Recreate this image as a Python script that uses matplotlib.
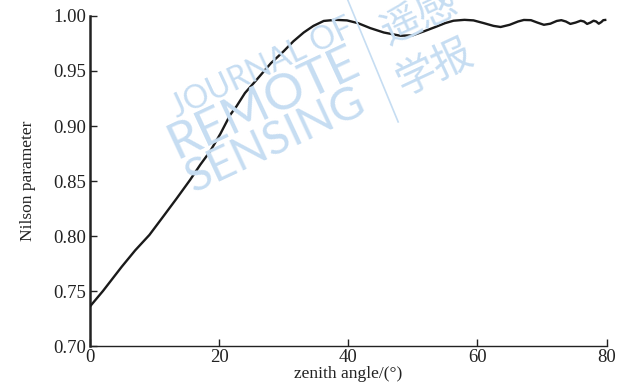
import numpy as np
import matplotlib.pyplot as plt

# Nilson parameter vs view zenith angle
zenith = [0.0, 2.0, 4.9, 7.0, 9.2, 11.5, 13.4, 15.5, 17.1, 18.6, 20.2, 21.7, 22.7,
          24.0, 25.8, 28.0, 30.0, 31.5, 33.1, 34.6, 36.2, 38.0, 39.8, 41.5, 43.4,
          45.5, 48.1, 50.0, 51.7, 53.5, 55.0, 56.3, 58.0, 59.4, 61.0, 62.5, 63.6,
          65.0, 66.3, 67.2, 68.3, 69.3, 70.3, 71.3, 72.3, 73.0, 73.7, 74.4, 75.2,
          76.0, 76.5, 77.0, 77.5, 78.0, 78.4, 78.8, 79.2, 79.5, 79.8]
nilson = [0.7360, 0.7500, 0.7720, 0.7870, 0.8010, 0.8190, 0.8340, 0.8510, 0.8650,
          0.8770, 0.8930, 0.9100, 0.9180, 0.9300, 0.9420, 0.9570, 0.9680, 0.9770,
          0.9850, 0.9910, 0.9955, 0.9965, 0.9960, 0.9935, 0.9890, 0.9850, 0.9820,
          0.9825, 0.9860, 0.9900, 0.9935, 0.9957, 0.9965, 0.9960, 0.9935, 0.9910,
          0.9900, 0.9920, 0.9950, 0.9964, 0.9962, 0.9940, 0.9920, 0.9930, 0.9955,
          0.9962, 0.9950, 0.9928, 0.9940, 0.9957, 0.9950, 0.9928, 0.9940, 0.9957,
          0.9950, 0.9930, 0.9945, 0.9962, 0.9964]

xticks = [0, 20, 40, 60, 80]
yticks = [0.70, 0.75, 0.80, 0.85, 0.90, 0.95, 1.00]

plt.rcParams['font.family'] = ['Liberation Serif', 'DejaVu Serif']

fig = plt.figure(figsize=(6.3, 3.92), dpi=100)
ax = fig.add_axes([0.1429, 0.1173, 0.8198, 0.8419])

# faint journal mark behind the curve
wm = '#c6ddf2'
rot = 25
fig.text(0.416, 0.827, 'JOURNAL OF', color=wm, fontsize=23, rotation=rot,
         ha='center', va='center', family='Lato', zorder=0)
fig.text(0.418, 0.737, 'REMOTE', color=wm, fontsize=36, rotation=rot,
         ha='center', va='center', family='Lato', zorder=0)
fig.text(0.437, 0.643, 'SENSING', color=wm, fontsize=33, rotation=rot,
         ha='center', va='center', family='Lato', zorder=0)
fig.lines.append(plt.Line2D([0.552, 0.632], [1.0, 0.689], transform=fig.transFigure,
                            color=wm, lw=1.2, zorder=0))
fig.text(0.666, 0.955, '遥感', color=wm, fontsize=29, rotation=rot,
         ha='center', va='center', family='Noto Sans CJK SC', zorder=0)
fig.text(0.690, 0.828, '学报', color=wm, fontsize=29, rotation=rot,
         ha='center', va='center', family='Noto Sans CJK SC', zorder=0)
ax.patch.set_alpha(0)

ax.plot(zenith, nilson, color='#1a1a1a', lw=1.7, zorder=3)

ax.set_xlim(0, 80)
ax.set_ylim(0.70, 1.00)
ax.set_xticks(xticks)
ax.set_yticks(yticks)
ax.set_xticklabels([str(t) for t in xticks])
ax.set_yticklabels(['%.2f' % t for t in yticks])
ax.tick_params(direction='in', length=5, width=1, labelsize=13.5, pad=3,
               colors='#222222')
ax.tick_params(axis='x', pad=2)

for side in ['top', 'right']:
    ax.spines[side].set_visible(False)
ax.spines['left'].set_linewidth(1.8)
ax.spines['bottom'].set_linewidth(1.0)
ax.spines['left'].set_color('#222222')
ax.spines['bottom'].set_color('#222222')

ax.set_xlabel('zenith angle/(°)', fontsize=12.5, labelpad=0, color='#222222')
ax.set_ylabel('Nilson parameter', fontsize=12.5, labelpad=12, color='#222222')

fig.savefig('out.png', dpi=100)
